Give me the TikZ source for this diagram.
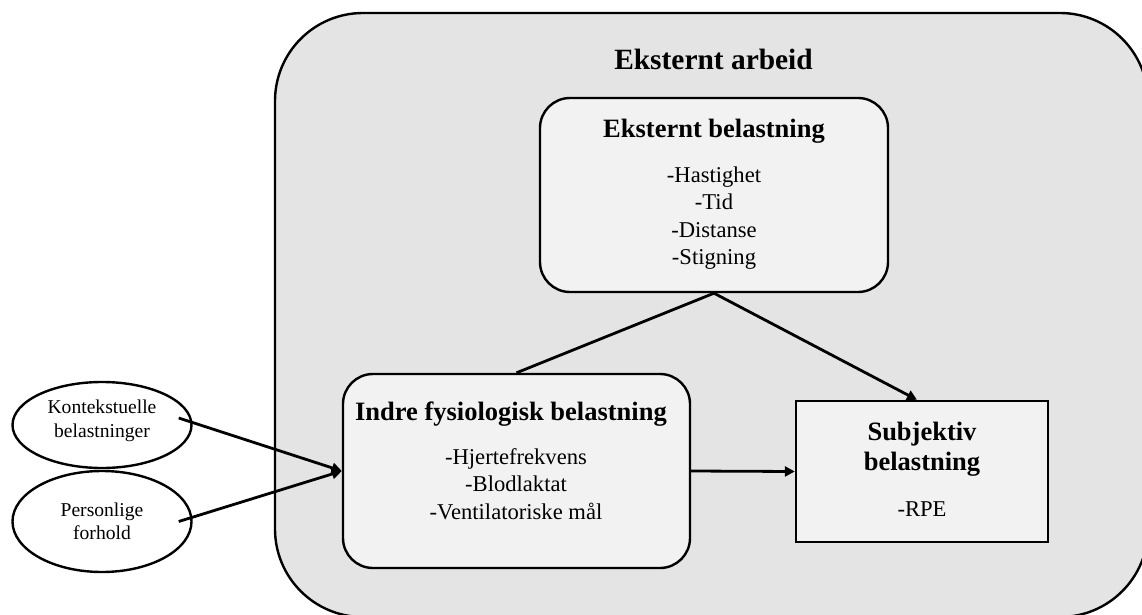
\documentclass[tikz,border=0pt]{standalone}
\usepackage{fontspec}
\setmainfont{Liberation Serif}
\usetikzlibrary{arrows.meta,shapes.geometric}
\definecolor{outerfill}{HTML}{E4E4E4}
\definecolor{innerfill}{HTML}{F2F2F2}
\begin{document}
\begin{tikzpicture}[x=1pt,y=-1pt,
  panel/.style={draw=black,line width=2.4pt,fill=innerfill,inner sep=0pt},
  roundpanel/.style={panel,rounded corners=30pt},
  oval/.style={ellipse,draw=black,line width=2.4pt,fill=white,inner sep=0pt,minimum width=179pt},
  bigtitle/.style={font=\bfseries\fontsize{29.4}{34}\selectfont,anchor=base,inner sep=0pt},
  boxtitle/.style={font=\bfseries\fontsize{26.5}{30}\selectfont,anchor=base,inner sep=0pt},
  item/.style={font=\fontsize{22.6}{27}\selectfont,anchor=base,inner sep=0pt},
  ovaltext/.style={font=\fontsize{19.6}{24}\selectfont,anchor=base,inner sep=0pt},
  link/.style={line width=2.8pt},
  arrow/.style={link,-{Triangle[length=10pt,width=10pt]}}]
\clip (0,0) rectangle (1142,615);
% outer region: external work
\draw[fill=outerfill,line width=2.4pt,rounded corners=88pt] (275,13) rectangle (1148,617);
\node[bigtitle] (arb) at (713.5,70) {Eksternt arbeid};

% external load
\node[roundpanel,minimum width=348pt,minimum height=194pt] (eb) at (714,195) {};
\node[boxtitle] (ebt) at (714,137) {Eksternt belastning};
\node[item] (eb1) at (714,182) {-Hastighet};
\node[item] (eb2) at (714,209.5) {-Tid};
\node[item] (eb3) at (714,237) {-Distanse};
\node[item] (eb4) at (714,264.5) {-Stigning};

% internal physiological load
\node[roundpanel,minimum width=347pt,minimum height=194pt] (ind) at (516.5,471) {};
\node[boxtitle] (indt) at (511,420) {Indre fysiologisk belastning};
\node[item] (ind1) at (516,464) {-Hjertefrekvens};
\node[item] (ind2) at (516,491.5) {-Blodlaktat};
\node[item] (ind3) at (516,519) {-Ventilatoriske mål};

% subjective load
\node[panel,minimum width=252pt,minimum height=141pt] (sub) at (922,471.5) {};
\node[boxtitle] (subt1) at (922,440) {Subjektiv};
\node[boxtitle] (subt2) at (922,470) {belastning};
\node[item] (sub1) at (922,516) {-RPE};

% context ovals
\node[oval,minimum height=86pt] (kon) at (102,425) {};
\node[ovaltext] (kon1) at (102,413) {Kontekstuelle};
\node[ovaltext] (kon2) at (102,437) {belastninger};
\node[oval,minimum height=101pt] (per) at (102,521.5) {};
\node[ovaltext] (per1) at (102,516) {Personlige};
\node[ovaltext] (per2) at (102,539) {forhold};

% connectors
\draw[link] (eb.south) -- (ind.north);
\draw[arrow] (eb.south) -- ([xshift=-5pt]sub.north);
\draw[arrow] (ind.east) -- (sub.west);
\draw[arrow] ([xshift=-14pt,yshift=7pt]kon.east) -- (ind.west);
\draw[arrow] ([xshift=-14pt]per.east) -- (ind.west);
\end{tikzpicture}
\end{document}
